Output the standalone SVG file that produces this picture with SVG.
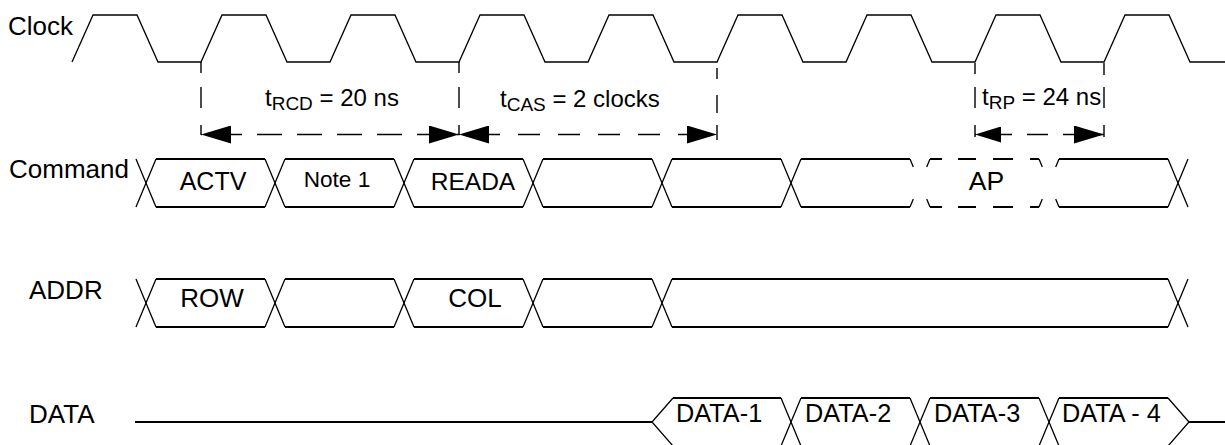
<svg xmlns="http://www.w3.org/2000/svg" width="1225" height="445" viewBox="0 0 1225 445">
<style>
.h{fill:none;stroke:#000;stroke-width:2}
.d{fill:none;stroke:#000;stroke-width:1.3}
.clk{fill:none;stroke:#000;stroke-width:1.3;stroke-linejoin:miter}
.vd{fill:none;stroke:#000;stroke-width:1.4}
.ar{fill:none;stroke:#000;stroke-width:1.6}
text{font-family:"Liberation Sans",Arial,Helvetica,sans-serif;fill:#000}
.lbl{font-size:26px}
.bx{font-size:25px;text-anchor:middle}
.tm{font-size:24px}
.sub{font-size:19px}
</style>
<defs>
<marker id="ah" markerUnits="userSpaceOnUse" markerWidth="30" markerHeight="18" refX="30" refY="9" orient="auto-start-reverse">
<path d="M0,0L30,9L0,18Z" fill="#000"/>
</marker>
<marker id="ahs" markerUnits="userSpaceOnUse" markerWidth="26" markerHeight="16" refX="26" refY="8" orient="auto-start-reverse">
<path d="M0,0L26,8L0,16Z" fill="#000"/>
</marker>
</defs>

<g id="labels">
<text class="lbl" x="8" y="35">Clock</text>
<text class="lbl" x="9" y="178">Command</text>
<text class="lbl" x="29" y="299">ADDR</text>
<text class="lbl" x="29" y="423">DATA</text>
</g>

<g id="clock">
<path class="clk" d="M72,62L93,15L137,15L158,62L201,62L222,15L266,15L287,62L330,62L351,15L395,15L416,62L459,62L480,15L524,15L545,62L588,62L609,15L653,15L674,62L717,62L738,15L782,15L803,62L846,62L867,15L911,15L932,62L975,62L996,15L1040,15L1061,62L1104,62L1125,15L1169,15L1190,62L1225,62"/>
</g>

<g id="connectors">
<g id="markers-vertical">
<path class="vd" d="M201,62V73M201,87V108M201,125V135"/>
<path class="vd" d="M459,62V73M459,87V108M459,125V135"/>
<path class="vd" d="M717,68V79M717,95V113M717,125V140"/>
<path class="vd" d="M975,63V74M975,87V108M975,125V137"/>
<path class="vd" d="M1104,63V75M1104,87V108M1104,125V137"/>
</g>
<line id="arrow-trcd" class="ar" x1="201" y1="134.5" x2="459" y2="134.5" stroke-dasharray="25 15" stroke-dashoffset="24" marker-start="url(#ah)" marker-end="url(#ah)"/>
<line id="arrow-tcas" class="ar" x1="459" y1="134.5" x2="717" y2="134.5" stroke-dasharray="22 18" stroke-dashoffset="21" marker-start="url(#ah)" marker-end="url(#ah)"/>
<line id="arrow-trp" class="ar" x1="975" y1="134.5" x2="1104" y2="134.5" stroke-dasharray="21 15" stroke-dashoffset="20" marker-start="url(#ahs)" marker-end="url(#ah)"/>
</g>

<g id="timing-labels">
<text id="t-rcd" class="tm" x="265" y="106">t<tspan class="sub" dy="4">RCD</tspan><tspan dy="-4"> = 20 ns</tspan></text>
<text id="t-cas" class="tm" x="500" y="107">t<tspan class="sub" dy="4">CAS</tspan><tspan dy="-4"> = 2 clocks</tspan></text>
<text id="t-rp" class="tm" x="982" y="105">t<tspan class="sub" dy="4">RP</tspan><tspan dy="-4"> = 24 ns</tspan></text>
</g>

<g id="command">
<path class="d" d="M136,159L146,183L136,207"/>
<g id="cmd-actv">
<path class="h" d="M156,159H265M156,207H265"/>
<path class="d" d="M156,159L146,183L156,207M265,159L275,183L265,207"/>
<text class="bx" x="213" y="190">ACTV</text>
</g>
<g id="cmd-note1">
<path class="h" d="M285,159H394M285,207H394"/>
<path class="d" d="M285,159L275,183L285,207M394,159L404,183L394,207"/>
<text class="bx" x="337" y="187" style="font-size:22.6px">Note 1</text>
</g>
<g id="cmd-reada">
<path class="h" d="M414,159H523M414,207H523"/>
<path class="d" d="M414,159L404,183L414,207M523,159L533,183L523,207"/>
<text class="bx" x="473" y="190" style="font-size:24.5px">READA</text>
</g>
<g id="cmd-4">
<path class="h" d="M543,159H652M543,207H652"/>
<path class="d" d="M543,159L533,183L543,207M652,159L662,183L652,207"/>
</g>
<g id="cmd-5">
<path class="h" d="M672,159H781M672,207H781"/>
<path class="d" d="M672,159L662,183L672,207M781,159L791,183L781,207"/>
</g>
<g id="cmd-6">
<path class="h" d="M801,159H910M801,207H910"/>
<path class="d" d="M801,159L791,183L801,207M910,159L913.3,167M910,207L913.3,199"/>
</g>
<g id="cmd-ap">
<path class="h" d="M930,159H942M958,159H976M993,159H1013M1030,159H1039M930,207H942M958,207H976M993,207H1013M1030,207H1039"/>
<path class="d" d="M930,159L926.7,167M930,207L926.7,199M1039,159L1042.3,167M1039,207L1042.3,199"/>
<text class="bx" x="986.5" y="190" style="font-size:26.5px">AP</text>
</g>
<g id="cmd-8">
<path class="h" d="M1059,159H1168M1059,207H1168"/>
<path class="d" d="M1059,159L1055.7,167M1059,207L1055.7,199M1168,159L1178,183L1168,207"/>
</g>
<path class="d" d="M1188,159L1178,183L1188,207"/>
</g>

<g id="addr">
<path class="d" d="M136,279L146,303L136,327"/>
<g id="addr-row">
<path class="h" d="M156,279H265M156,327H265"/>
<path class="d" d="M156,279L146,303L156,327M265,279L275,303L265,327"/>
<text class="bx" x="212" y="307" style="font-size:26px">ROW</text>
</g>
<g id="addr-2">
<path class="h" d="M285,279H394M285,327H394"/>
<path class="d" d="M285,279L275,303L285,327M394,279L404,303L394,327"/>
</g>
<g id="addr-col">
<path class="h" d="M414,279H523M414,327H523"/>
<path class="d" d="M414,279L404,303L414,327M523,279L533,303L523,327"/>
<text class="bx" x="475" y="307" style="font-size:26px">COL</text>
</g>
<g id="addr-4">
<path class="h" d="M543,279H652M543,327H652"/>
<path class="d" d="M543,279L533,303L543,327M652,279L662,303L652,327"/>
</g>
<g id="addr-5">
<path class="h" d="M672,279H1168M672,327H1168"/>
<path class="d" d="M672,279L662,303L672,327M1168,279L1178,303L1168,327"/>
</g>
<path class="d" d="M1188,279L1178,303L1188,327"/>
</g>

<g id="data">
<path class="h" d="M135,422H652M1189,422H1225"/>
<g id="data-1">
<path class="h" d="M673,398H781M673,446H781"/>
<path class="d" d="M673,398L652,422L673,446M781,398L791,422L781,446"/>
<text x="676" y="422" style="font-size:25.3px">DATA-1</text>
</g>
<g id="data-2">
<path class="h" d="M801,398H910M801,446H910"/>
<path class="d" d="M801,398L791,422L801,446M910,398L920,422L910,446"/>
<text x="805" y="422" style="font-size:25.3px">DATA-2</text>
</g>
<g id="data-3">
<path class="h" d="M930,398H1039M930,446H1039"/>
<path class="d" d="M930,398L920,422L930,446M1039,398L1049,422L1039,446"/>
<text x="934" y="422" style="font-size:25.3px">DATA-3</text>
</g>
<g id="data-4">
<path class="h" d="M1059,398H1168M1059,446H1168"/>
<path class="d" d="M1059,398L1049,422L1059,446M1168,398L1189,422L1168,446"/>
<text x="1062" y="422" style="font-size:25.3px">DATA - 4</text>
</g>
</g>
</svg>
